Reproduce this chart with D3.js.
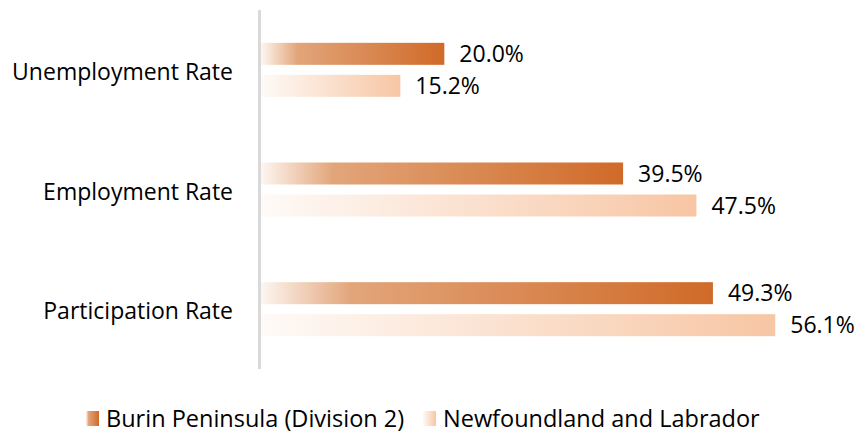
<!DOCTYPE html>
<html>
<head>
<meta charset="utf-8">
<script src="https://cdn.jsdelivr.net/npm/d3@7"></script>
<style>
  body { margin: 0; background: #fff; }
  svg { display: block; font-family: "Open Sans", sans-serif; }
</style>
</head>
<body>
<div class="chart"></div>
<script>
const categories = ['Unemployment Rate', 'Employment Rate', 'Participation Rate'];
const seriesNames = ['Burin Peninsula (Division 2)', 'Newfoundland and Labrador'];
const burinValues = [20.0, 39.5, 49.3];
const nlValues = [15.2, 47.5, 56.1];

const width = 860, height = 433;
const svg = d3.select('.chart').append('svg')
    .attr('width', width)
    .attr('height', height);

// gradients for both series
const defs = svg.append('defs');
const burinGrad = defs.append('linearGradient').attr('id', 'gradBurin');
burinGrad.append('stop').attr('offset', '0%').attr('stop-color', '#fdf6f1');
burinGrad.append('stop').attr('offset', '20%').attr('stop-color', '#e2a57a');
burinGrad.append('stop').attr('offset', '100%').attr('stop-color', '#d06a28');
const nlGrad = defs.append('linearGradient').attr('id', 'gradNL');
nlGrad.append('stop').attr('offset', '0%').attr('stop-color', '#fefaf7');
nlGrad.append('stop').attr('offset', '100%').attr('stop-color', '#f7c6a4');
const fills = ['url(#gradBurin)', 'url(#gradNL)'];

const x = d3.scaleLinear().domain([0, 60]).range([261, 811]);
const y = d3.scaleBand().domain(categories).range([10, 369]);

const barH = 22, barStep = 32;

// axis line
svg.append('line')
    .attr('x1', 259.5).attr('x2', 259.5)
    .attr('y1', y.range()[0]).attr('y2', y.range()[1])
    .attr('stroke', '#d9d9d9')
    .attr('stroke-width', 3);

// category labels
svg.selectAll('.cat')
    .data(categories)
    .enter()
    .append('text')
    .attr('class', 'cat')
    .attr('x', 233)
    .attr('y', d => y(d) + y.bandwidth() / 2 + 2)
    .attr('dy', '0.35em')
    .attr('text-anchor', 'end')
    .attr('font-size', 23)
    .attr('fill', '#000')
    .text(d => d);

const rows = [];
categories.forEach((c, i) => {
    rows.push({ cat: c, s: 0, v: burinValues[i] });
    rows.push({ cat: c, s: 1, v: nlValues[i] });
});

const barY = d => y(d.cat) + y.bandwidth() / 2 - (barStep + barH) / 2 + d.s * barStep;

svg.selectAll('.bar')
    .data(rows)
    .enter()
    .append('rect')
    .attr('class', 'bar')
    .attr('x', x(0))
    .attr('y', barY)
    .attr('width', d => x(d.v) - x(0))
    .attr('height', barH)
    .attr('fill', d => fills[d.s]);

svg.selectAll('.val')
    .data(rows)
    .enter()
    .append('text')
    .attr('class', 'val')
    .attr('x', d => x(d.v) + 15)
    .attr('y', d => barY(d) + barH / 2)
    .attr('dy', '0.35em')
    .attr('font-size', 23)
    .attr('fill', '#000')
    .text(d => d.v.toFixed(1) + '%');

// legend
const legendX = [86, 423];
const legend = svg.selectAll('.legend')
    .data(seriesNames)
    .enter()
    .append('g')
    .attr('class', 'legend')
    .attr('transform', (d, i) => `translate(${legendX[i]},411)`);
legend.append('rect')
    .attr('width', 13).attr('height', 15)
    .attr('fill', (d, i) => fills[i]);
legend.append('text')
    .attr('x', 20)
    .attr('y', 8)
    .attr('dy', '0.35em')
    .attr('font-size', 23.5)
    .attr('fill', '#000')
    .text(d => d);
</script>
</body>
</html>
